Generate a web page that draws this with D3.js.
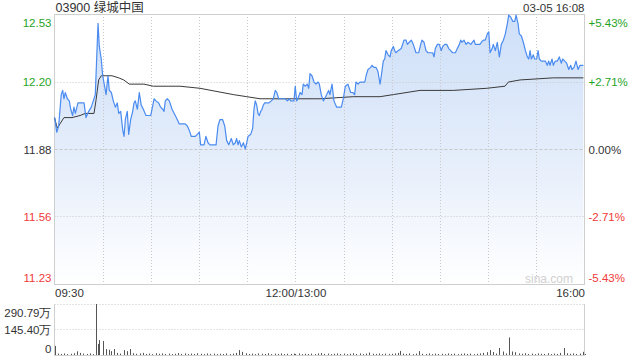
<!DOCTYPE html>
<html><head><meta charset="utf-8">
<script src="https://cdn.jsdelivr.net/npm/d3@7/dist/d3.min.js"></script>
<style>
html,body{margin:0;padding:0;background:#fff;}
svg{display:block;font-family:"Liberation Sans","Noto Sans CJK SC",Arial,sans-serif;}
</style></head>
<body><svg id="c" width="640" height="360"></svg>
<script>
// ---------- data ----------
const title = "03900 绿城中国";
const stamp = "03-05 16:08";
const prevClose = 11.88;
const pctTicks = [5.43, 2.71, 0, -2.71, -5.43];
const priceTickLabels = ["12.53", "12.20", "11.88", "11.56", "11.23"];
const pctTickLabels = ["+5.43%", "+2.71%", "0.00%", "-2.71%", "-5.43%"];
const timeTicks = [0, 150, 330];
const timeTickLabels = ["09:30", "12:00/13:00", "16:00"];
const volMax = 290.79;
const volTicks = [290.79, 145.40, 0];
const volTickLabels = ["290.79万", "145.40万", "0"];

// minute since 09:30 (lunch removed) and price
const priceMin = [0.1,1.4,2.6,4.2,5.1,5.9,6.7,8.0,9.2,10.1,11.3,12.1,13.0,14.6,17.1,18.4,19.6,21.3,22.9,24.6,25.4,26.3,27.1,27.9,29.1,30.0,31.2,32.1,33.3,34.1,35.4,36.6,37.9,39.1,40.0,41.2,42.5,43.3,44.1,45.3,46.2,47.4,48.7,49.5,50.3,51.6,52.8,54.0,55.3,
57.0,59.9,62.0,63.2,64.9,66.1,67.4,68.2,69.0,70.2,71.5,73.2,75.2,76.5,77.7,81.4,82.7,83.9,85.2,87.7,88.9,90.2,91.0,93.1,94.3,95.6,96.8,100.6,101.8,103.0,104.7,106.0,107.2,108.5,110.1,111.3,
112.6,113.4,114.3,115.1,116.3,117.6,118.8,119.7,120.5,122.2,123.4,124.2,125.0,125.9,126.7,127.5,128.4,129.2,130.0,130.9,133.4,135.0,136.2,137.5,138.4,139.6,143.7,145.0,146.2,147.1,148.3,149.1,149.9,150.8,151.6,152.9,154.1,154.9,156.2,157.4,158.3,159.1,160.3,161.6,162.8,164.1,164.9,166.1,167.4,
168.2,169.5,170.7,171.5,172.8,174.0,175.7,178.6,179.8,181.1,182.7,184.4,185.7,186.9,187.7,189.0,190.2,193.2,194.0,195.2,196.9,197.7,198.9,200.2,201.4,202.7,203.5,204.7,205.6,206.4,207.7,208.9,209.7,211.0,211.8,212.6,213.9,215.9,217.6,218.9,219.7,220.9,222.2,223.4,
225.1,226.8,228.0,228.8,230.1,231.3,232.6,235.5,236.3,237.1,238.4,239.6,240.8,241.7,243.0,244.2,245.5,246.7,247.9,249.6,250.8,252.1,252.9,253.7,255.0,256.2,257.5,259.2,261.2,262.0,264.9,265.8,267.0,268.2,269.5,270.4,271.2,272.5,273.2,274.5,275.7,277.0,278.2,279.5,
280.7,282.0,282.8,284.1,285.3,286.6,287.4,288.6,289.4,290.7,291.9,293.2,294.4,295.3,296.1,296.9,298.1,299.0,300.2,301.1,301.9,303.1,305.6,306.8,307.7,308.5,309.8,310.6,311.8,313.1,314.3,315.6,316.4,317.7,318.9,320.2,321.4,322.2,323.5,324.7,326.0,327.2,329.3];
const price = [12.03,11.96,11.99,12.14,12.16,12.12,12.15,12.12,12.11,12.07,12.04,12.08,12.05,12.10,12.10,12.10,12.03,12.06,12.08,12.12,12.14,12.32,12.48,12.37,12.31,12.23,12.18,12.14,12.23,12.16,12.15,12.11,12.08,12.10,12.05,12.06,11.97,11.94,12.02,12.06,11.95,12.02,12.06,12.10,12.11,12.07,12.15,12.09,12.07,
12.04,12.04,12.12,12.11,12.10,12.08,12.07,12.06,12.11,12.12,12.11,12.07,12.04,12.02,12.00,12.00,11.99,11.97,11.94,11.94,11.95,11.96,11.90,11.90,11.94,11.91,11.90,11.90,11.99,12.02,12.02,11.99,11.92,11.90,11.93,11.90,
11.91,11.93,11.90,11.92,11.89,11.91,11.88,11.91,11.94,11.95,11.98,12.07,12.11,12.09,12.05,12.04,12.06,12.07,12.09,12.10,12.10,12.11,12.12,12.16,12.15,12.12,12.12,12.11,12.12,12.11,12.11,12.11,12.18,12.11,12.12,12.15,12.14,12.19,12.18,12.19,12.17,12.24,12.23,12.20,12.19,12.20,12.19,12.14,12.11,
12.12,12.14,12.16,12.14,12.19,12.11,12.08,12.08,12.12,12.18,12.19,12.15,12.15,12.14,12.20,12.19,12.20,12.20,12.23,12.26,12.27,12.28,12.27,12.27,12.25,12.19,12.23,12.30,12.31,12.35,12.33,12.32,12.35,12.37,12.35,12.34,12.35,12.36,12.40,12.40,12.38,12.39,12.40,12.38,
12.34,12.34,12.38,12.40,12.39,12.35,12.34,12.34,12.32,12.36,12.38,12.38,12.35,12.37,12.38,12.38,12.36,12.35,12.34,12.34,12.36,12.38,12.40,12.39,12.40,12.38,12.39,12.38,12.40,12.38,12.38,12.39,12.40,12.40,12.43,12.44,12.34,12.36,12.38,12.35,12.39,12.32,12.38,12.40,
12.43,12.48,12.52,12.51,12.49,12.49,12.52,12.48,12.43,12.42,12.39,12.35,12.32,12.31,12.35,12.31,12.33,12.31,12.31,12.35,12.31,12.30,12.30,12.28,12.30,12.28,12.31,12.28,12.30,12.30,12.32,12.29,12.31,12.30,12.29,12.26,12.28,12.26,12.27,12.30,12.26,12.28,12.28];

const avgMin = [0,1.7,3.4,5.9,10.9,15.9,19.2,24.6,25.8,27.5,29.1,31.6,35.8,40.0,43.1,46.6,55.7,61.5,78.1,90.6,111.3,119.7,128.0,165.3,186.1,202.7,211.0,227.6,248.3,269.1,280.5,282.6,289.9,310.6,329.3];
const avgPrice = [12.03,11.98,12.00,12.03,12.03,12.04,12.05,12.05,12.11,12.21,12.23,12.23,12.23,12.22,12.21,12.19,12.19,12.18,12.18,12.17,12.14,12.13,12.12,12.12,12.13,12.13,12.14,12.16,12.16,12.17,12.18,12.20,12.21,12.22,12.22];

// volume (万) per minute
const volMin = [0,2,4,6,8,10,12,14,16,18,20,22,24,26,27,28,30,32,34,35,37,39,41,43,45,47,49,51,53,55,57,59,61,63,65,67,69,71,73,75,77,79,81,83,85,87,89,91,93,95,97,99,101,103,105,107,109,111,113,115,117,119,121,123,125,127,129,131,133,135,137,139,141,143,145,147,149,150,152,154,156,158,160,162,164,166,168,170,172,174,176,178,180,182,184,186,188,190,192,194,196,198,200,202,204,206,208,210,212,214,215,217,219,221,223,225,227,229,231,233,235,237,239,241,243,245,247,249,251,253,255,257,259,261,263,265,267,269,271,273,275,277,279,281,283,285,287,289,291,293,295,297,299,301,303,305,307,309,311,313,315,317,319,321,323,325,327,329,330];
const volVal = [52,8,6,9,5,7,10,21,12,8,6,9,5,290.79,63,85,80,34,30,22,34,12,8,28,22,34,10,7,9,12,6,8,5,10,7,9,6,8,5,7,11,6,9,5,8,6,10,7,5,9,6,8,5,7,6,9,5,8,12,28,18,10,6,8,5,9,7,6,10,5,8,6,9,5,7,6,8,6,9,5,7,6,8,5,9,11,6,8,5,7,9,6,8,5,7,10,6,9,5,8,14,7,6,9,5,8,6,7,9,12,23,8,6,9,5,8,22,7,6,9,5,8,6,7,5,9,6,8,5,7,9,6,8,5,7,9,12,16,28,17,8,40,20,9,100,20,16,9,7,10,6,8,5,9,7,6,10,5,8,6,12,40,10,7,9,6,8,18,6];

// ---------- drawing ----------
const svg = d3.select("#c");
const L = 54.5, R = 584.5, T = 14, B = 284;
const VT = 304, VB = 355;

const x = d3.scaleLinear().domain([0, 330]).range([L, R]);
const y = d3.scaleLinear().domain([prevClose * (1 - 0.0543), prevClose * (1 + 0.0543)]).range([B, T]);
const yv = d3.scaleLinear().domain([0, volMax]).range([VB, VT]);
const tickPrices = pctTicks.map(p => prevClose * (1 + p / 100));
const colorFor = i => pctTicks[i] > 0 ? "#1fa31f" : (pctTicks[i] < 0 ? "#f03a3a" : "#333");

// gradient
const defs = svg.append("defs");
const g = defs.append("linearGradient").attr("id", "fillg")
  .attr("gradientUnits", "userSpaceOnUse").attr("x1", 0).attr("y1", T).attr("x2", 0).attr("y2", B);
g.append("stop").attr("offset", "0%").attr("stop-color", "#cddff8");
g.append("stop").attr("offset", "55%").attr("stop-color", "#e6eefb");
g.append("stop").attr("offset", "100%").attr("stop-color", "#ffffff");

// area
const pts = priceMin.map((m, i) => [m, price[i]]);
svg.append("path").datum(pts)
  .attr("d", d3.area().x(d => x(d[0])).y0(B).y1(d => y(d[1])))
  .attr("fill", "url(#fillg)");

// horizontal grid
tickPrices.forEach((p, i) => {
  if (i === 0 || i === tickPrices.length - 1) return;
  const yy = Math.round(y(p)) + 0.5;
  svg.append("line").attr("x1", L).attr("x2", R).attr("y1", yy).attr("y2", yy)
    .attr("stroke", "#c8c8c8").attr("stroke-width", 1)
    .attr("stroke-dasharray", pctTicks[i] === 0 ? "3,2" : "1,2");
});
// vertical grid every 30 min
d3.range(30, 330, 30).forEach(m => {
  const xx = Math.round(x(m)) + 0.5;
  svg.append("line").attr("x1", xx).attr("x2", xx).attr("y1", T).attr("y2", B)
    .attr("stroke", "#c8c8c8").attr("stroke-dasharray", "1,2");
});

// frame
svg.append("rect").attr("x", L).attr("y", T + 0.5).attr("width", R - L).attr("height", B - T)
  .attr("fill", "none").attr("stroke", "#cfcfcf");

// watermark
svg.append("text").attr("x", 573).attr("y", 283).attr("text-anchor", "end")
  .attr("font-size", 12).attr("fill", "#d0d0d0").text("sina.com");

// avg line
svg.append("path").datum(avgMin.map((m, i) => [m, avgPrice[i]]))
  .attr("d", d3.line().x(d => x(d[0])).y(d => y(d[1])))
  .attr("fill", "none").attr("stroke", "#3a3a3a").attr("stroke-width", 1);

// price line
svg.append("path").datum(pts)
  .attr("d", d3.line().x(d => x(d[0])).y(d => y(d[1])))
  .attr("fill", "none").attr("stroke", "#4a8bf0").attr("stroke-width", 1.2).attr("stroke-linejoin", "round");

// left axis
const la = svg.append("g").attr("transform", `translate(${L - 3},0)`)
  .call(d3.axisLeft(y).tickValues(tickPrices).tickSize(0).tickPadding(0).tickFormat((d, i) => priceTickLabels[i]));
la.select(".domain").remove();
la.selectAll("text").attr("font-size", 11.5).attr("font-family", null)
  .attr("fill", (d, i) => colorFor(i))
  .attr("dy", (d, i) => i === 0 ? "1.05em" : (i === tickPrices.length - 1 ? "-0.25em" : "0.35em"));

// right axis
const ra = svg.append("g").attr("transform", `translate(${R + 4},0)`)
  .call(d3.axisRight(y).tickValues(tickPrices).tickSize(0).tickPadding(0).tickFormat((d, i) => pctTickLabels[i]));
ra.select(".domain").remove();
ra.selectAll("text").attr("font-size", 11.5).attr("font-family", null)
  .attr("fill", (d, i) => colorFor(i))
  .attr("dy", (d, i) => i === 0 ? "1.05em" : (i === tickPrices.length - 1 ? "-0.25em" : "0.35em"));

// time axis
const ta = svg.append("g").attr("transform", `translate(0,${B + 2})`)
  .call(d3.axisBottom(x).tickValues(timeTicks).tickSize(0).tickPadding(0).tickFormat((d, i) => timeTickLabels[i]));
ta.select(".domain").remove();
ta.selectAll("text").attr("font-size", 11.5).attr("font-family", null).attr("fill", "#333")
  .attr("dy", "0.95em")
  .attr("text-anchor", (d, i) => i === 0 ? "start" : (i === timeTicks.length - 1 ? "end" : "middle"));

// title + stamp
svg.append("text").attr("x", L + 1).attr("y", 11.5).attr("font-size", 12.5).attr("fill", "#333").text(title);
svg.append("text").attr("x", R).attr("y", 11.5).attr("font-size", 11.5).attr("fill", "#333")
  .attr("text-anchor", "end").text(stamp);

// volume panel grid/frame
[VT, Math.round(yv(145.40))].forEach(yy => {
  svg.append("line").attr("x1", L).attr("x2", R).attr("y1", yy + 0.5).attr("y2", yy + 0.5)
    .attr("stroke", "#c8c8c8").attr("stroke-dasharray", "1,2");
});
svg.append("line").attr("x1", L).attr("x2", L).attr("y1", VT).attr("y2", VB + 1).attr("stroke", "#cfcfcf");
svg.append("line").attr("x1", R).attr("x2", R).attr("y1", VT).attr("y2", VB + 1).attr("stroke", "#cfcfcf");
svg.append("line").attr("x1", L).attr("x2", R).attr("y1", VB + 0.5).attr("y2", VB + 0.5).attr("stroke", "#cfcfcf");

// volume bars
svg.append("g").selectAll("line").data(volMin.map((m, i) => [m, volVal[i]])).join("line")
  .attr("x1", d => Math.round(x(d[0])) + 0.5).attr("x2", d => Math.round(x(d[0])) + 0.5)
  .attr("y1", VB).attr("y2", d => yv(d[1]))
  .attr("stroke", "#555").attr("stroke-width", 1);

// volume axis
const va = svg.append("g").attr("transform", `translate(${L - 3},0)`)
  .call(d3.axisLeft(yv).tickValues(volTicks).tickSize(0).tickPadding(0).tickFormat((d, i) => volTickLabels[i]));
va.select(".domain").remove();
va.selectAll("text").attr("font-size", 11.5).attr("font-family", null).attr("fill", "#333")
  .attr("dy", (d, i) => i === 0 ? "1.05em" : (i === volTicks.length - 1 ? "-0.25em" : "0.35em"));
</script>
</body></html>
